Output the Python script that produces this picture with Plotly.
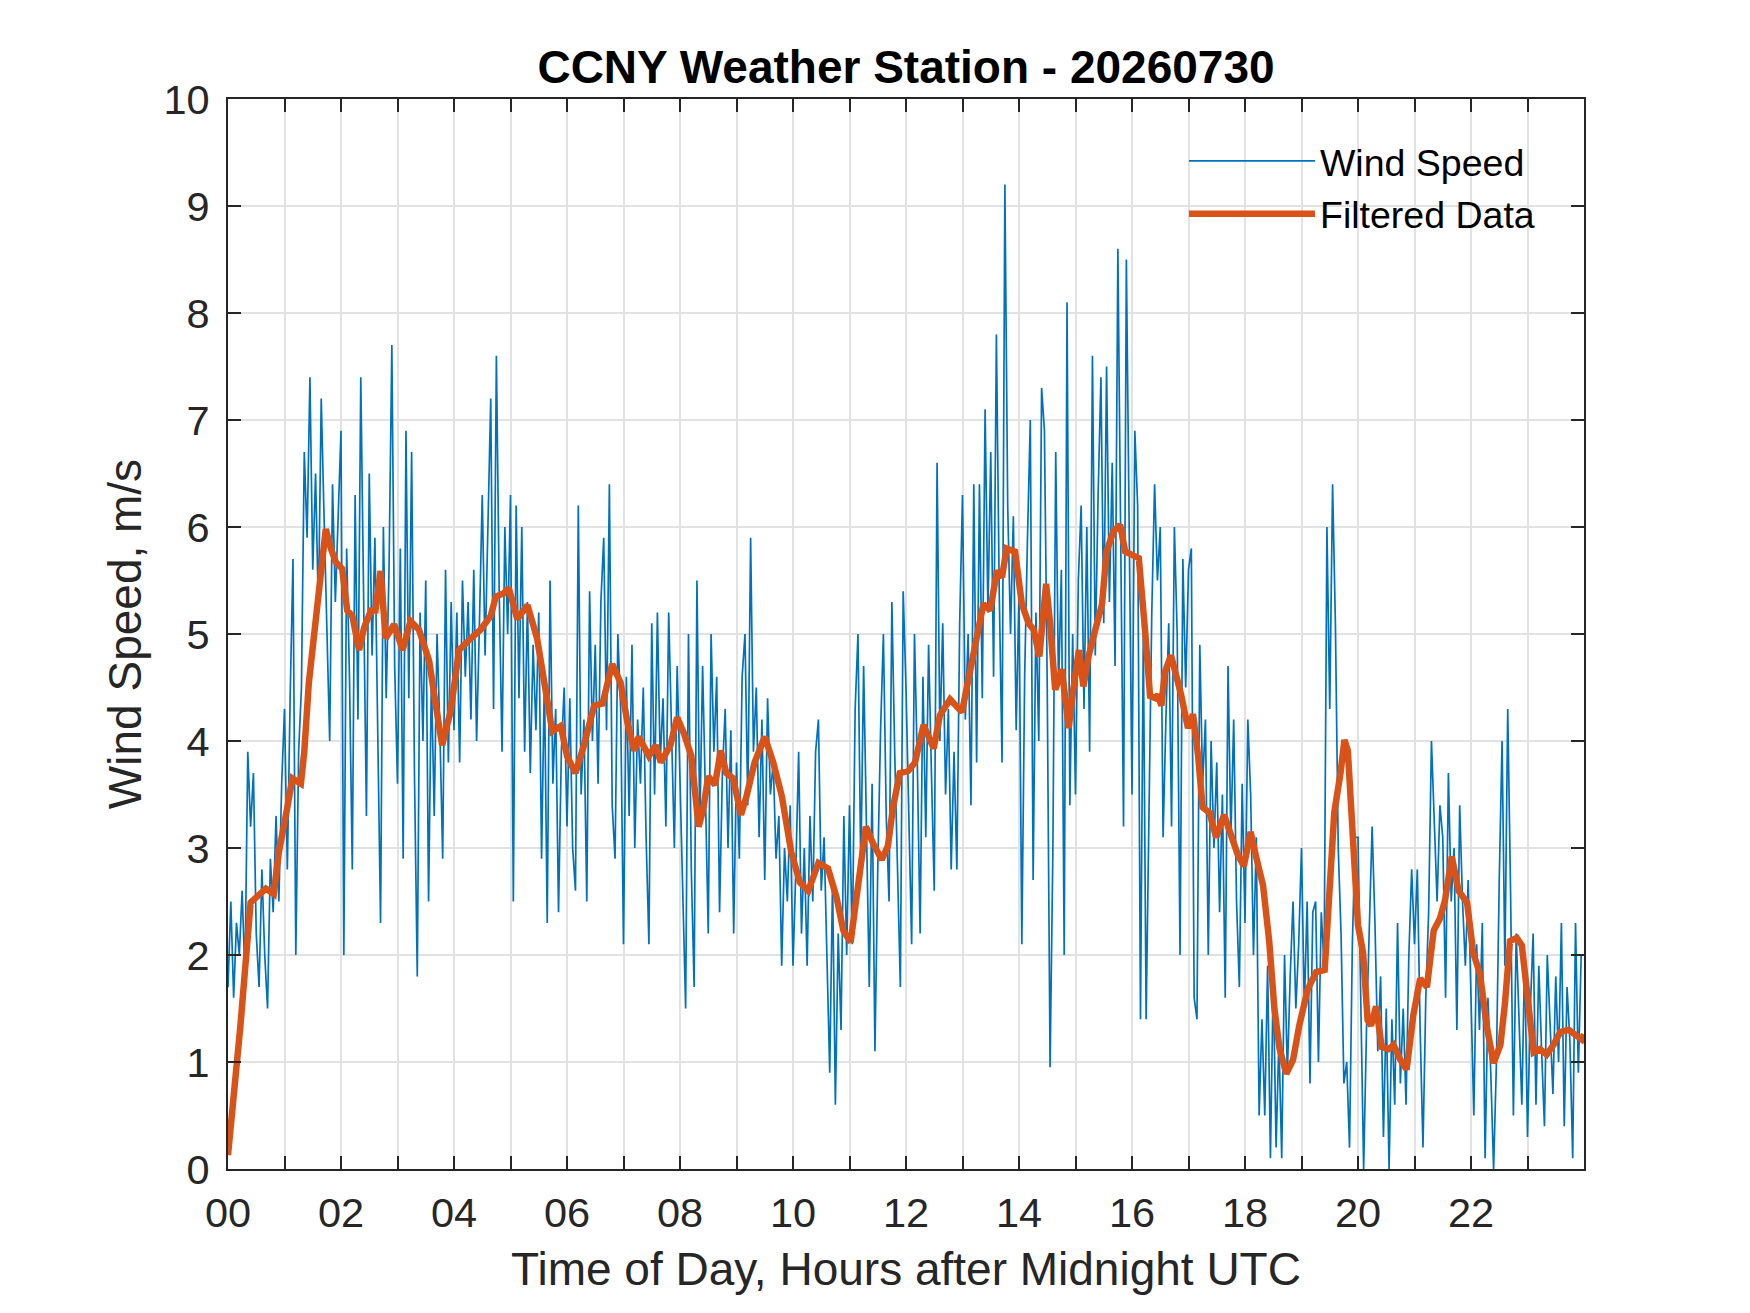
import numpy as np
import plotly.graph_objects as go

## DATA
# raw wind speed, one row per hour, 3 minute steps (m/s)
wind_speed = [
    1.7, 2.5, 1.6, 2.3, 2.0, 2.6, 1.8, 3.9, 3.2, 3.7, 2.2, 1.7, 2.8, 2.0, 1.5, 2.9, 2.4, 3.3, 2.5, 3.6,   # 00
    4.3, 2.8, 4.4, 5.7, 2.0, 3.9, 4.5, 6.7, 5.9, 7.4, 5.6, 6.5, 5.2, 7.2, 6.1, 4.9, 4.0, 6.4, 5.3, 6.1,   # 01
    6.9, 2.0, 5.8, 4.6, 2.8, 6.3, 4.2, 7.4, 5.1, 3.3, 6.5, 4.8, 5.9, 4.1, 2.3, 6.0, 4.4, 5.6, 7.7, 4.7,   # 02
    3.6, 5.8, 2.9, 6.9, 4.4, 6.7, 3.7, 1.8, 5.2, 4.0, 5.5, 2.5, 4.6, 3.3, 5.0, 4.1, 2.9, 5.6, 3.8, 5.3,   # 03
    4.1, 5.2, 3.8, 5.5, 4.6, 5.3, 4.2, 5.6, 4.0, 5.1, 6.3, 4.8, 5.9, 7.2, 4.3, 7.6, 5.4, 3.9, 6.0, 5.0,   # 04
    6.3, 2.5, 6.2, 4.4, 6.0, 3.9, 5.3, 3.7, 4.9, 4.1, 5.2, 2.9, 4.6, 2.3, 5.5, 3.6, 4.3, 2.4, 3.9, 4.5,   # 05
    3.2, 4.4, 3.0, 2.6, 6.2, 3.5, 4.2, 2.5, 5.4, 4.0, 4.9, 3.6, 5.3, 5.9, 4.1, 6.4, 3.4, 2.9, 5.0, 4.3,   # 06
    2.1, 4.6, 3.3, 4.9, 3.0, 4.2, 3.6, 4.5, 3.1, 2.1, 5.1, 3.5, 5.2, 3.8, 4.4, 3.2, 5.2, 4.0, 3.0, 4.7,   # 07
    3.6, 2.4, 1.5, 5.0, 2.8, 1.7, 5.5, 3.2, 4.7, 3.5, 2.2, 5.0, 3.9, 4.6, 2.4, 3.7, 4.3, 3.0, 4.1, 2.2,   # 08
    3.8, 2.9, 4.6, 5.0, 3.4, 5.9, 3.9, 4.5, 3.1, 4.2, 2.7, 4.4, 3.5, 3.8, 2.9, 3.3, 1.9, 3.0, 2.5, 3.4,   # 09
    1.9, 2.8, 3.9, 2.2, 3.0, 1.9, 3.3, 2.5, 3.9, 4.2, 2.6, 3.1, 2.0, 0.9, 2.7, 0.6, 2.2, 1.3, 3.3, 2.0,   # 10
    3.4, 2.1, 4.3, 5.0, 2.8, 4.7, 3.2, 1.7, 3.6, 1.1, 2.8, 4.1, 5.0, 3.3, 2.5, 5.3, 3.9, 2.9, 1.7, 5.4,   # 11
    4.5, 3.3, 2.1, 5.0, 3.8, 2.2, 4.6, 3.1, 4.9, 3.7, 2.6, 6.6, 4.0, 5.1, 3.5, 4.3, 2.8, 3.9, 2.8, 5.1,   # 12
    6.3, 4.2, 5.0, 3.4, 6.4, 3.8, 6.4, 4.4, 7.1, 5.2, 6.7, 4.6, 7.8, 5.4, 3.8, 9.2, 6.2, 5.0, 6.1, 4.1,   # 13
    5.4, 2.1, 4.6, 5.9, 7.0, 2.7, 5.2, 4.0, 7.3, 6.9, 4.5, 0.95, 3.0, 6.7, 4.5, 5.6, 2.0, 8.1, 3.4, 5.0,  # 14
    3.5, 5.5, 6.2, 4.3, 6.0, 3.9, 7.6, 4.8, 6.3, 7.4, 5.1, 7.5, 5.3, 6.6, 4.7, 8.6, 6.0, 3.2, 8.5, 5.8,   # 15
    3.5, 6.9, 6.2, 1.4, 5.0, 1.4, 3.4, 5.2, 6.4, 5.5, 6.0, 3.1, 4.2, 5.1, 3.2, 6.0, 5.0, 2.0, 5.7, 4.5,   # 16
    5.6, 5.8, 1.6, 1.4, 4.9, 3.6, 4.2, 2.0, 4.0, 3.0, 3.8, 2.4, 3.5, 1.6, 4.7, 3.1, 4.2, 2.5, 1.7, 3.6,   # 17
    2.3, 4.2, 3.5, 2.0, 3.1, 0.5, 1.4, 0.5, 1.9, 0.1, 1.8, 0.2, 1.2, 0.1, 2.0, 0.9, 1.8, 2.5, 1.5, 2.1,   # 18
    3.0, 1.5, 2.5, 0.8, 2.4, 2.5, 1.0, 2.4, 1.9, 6.0, 4.3, 6.4, 5.1, 3.0, 2.2, 0.8, 1.0, 0.2, 2.1, 3.1,   # 19
    3.1, 1.6, 0.0, 1.3, 2.2, 3.2, 2.3, 1.1, 1.8, 0.3, 1.5, 0.0, 1.4, 0.6, 2.3, 0.8, 1.5, 0.6, 2.0, 2.8,   # 20
    2.1, 2.8, 1.3, 0.2, 1.6, 2.4, 4.0, 3.2, 2.5, 3.4, 3.1, 1.6, 3.7, 2.5, 3.0, 1.3, 3.4, 2.5, 1.9, 2.7,   # 21
    1.6, 0.5, 2.1, 1.3, 2.3, 0.1, 1.6, 0.9, 0.0, 1.0, 2.7, 4.0, 1.9, 4.3, 2.6, 0.5, 2.2, 1.3, 0.6, 2.0,   # 22
    0.3, 1.5, 2.2, 0.6, 1.9, 1.1, 0.4, 2.0, 1.4, 0.7, 1.8, 1.0, 2.3, 0.4, 1.7, 1.2, 0.1, 2.3, 0.9, 2.0,   # 23
]
wind_hours = np.arange(len(wind_speed)) * 0.05   # 3 min samples

# filtered (smoothed) wind speed
filt_hours = [
    0.0, 0.22, 0.4, 0.52, 0.67, 0.81, 0.9, 1.05, 1.14, 1.29, 1.35, 1.43, 1.52, 1.61, 1.73, 1.82, 1.91,
    2.02, 2.11, 2.2, 2.32, 2.41, 2.53, 2.61, 2.7, 2.79, 2.94, 3.09, 3.23, 3.38, 3.56, 3.68, 3.79, 3.94,
    4.09, 4.3, 4.47, 4.65, 4.74, 4.88, 4.97, 5.12, 5.3, 5.47, 5.62, 5.74, 5.89, 6.0, 6.15, 6.3, 6.48,
    6.63, 6.8, 6.95, 7.07, 7.19, 7.27, 7.45, 7.57, 7.66, 7.83, 7.95, 8.07, 8.2, 8.33, 8.41, 8.5, 8.62,
    8.72, 8.82, 8.94, 9.08, 9.18, 9.32, 9.5, 9.65, 9.8, 9.97, 10.12, 10.27, 10.45, 10.62, 10.77, 10.89,
    11.02, 11.15, 11.29, 11.42, 11.57, 11.68, 11.77, 11.89, 12.04, 12.16, 12.31, 12.49, 12.6, 12.78,
    12.99, 13.14, 13.25, 13.37, 13.49, 13.61, 13.7, 13.78, 13.93, 14.05, 14.17, 14.26, 14.36, 14.48,
    14.55, 14.64, 14.76, 14.88, 14.96, 15.06, 15.14, 15.23, 15.35, 15.47, 15.55, 15.67, 15.79, 15.88,
    16.0, 16.12, 16.23, 16.32, 16.41, 16.46, 16.52, 16.58, 16.69, 16.78, 16.87, 16.99, 17.08, 17.17,
    17.25, 17.37, 17.49, 17.63, 17.76, 17.87, 17.98, 18.1, 18.2, 18.32, 18.43, 18.52, 18.61, 18.73,
    18.85, 18.96, 19.11, 19.26, 19.41, 19.5, 19.58, 19.69, 19.76, 19.82, 19.91, 20.0, 20.09, 20.17,
    20.23, 20.32, 20.42, 20.54, 20.63, 20.75, 20.86, 20.98, 21.1, 21.22, 21.34, 21.45, 21.54, 21.66,
    21.78, 21.93, 22.04, 22.16, 22.28, 22.4, 22.52, 22.6, 22.69, 22.81, 22.9, 22.99, 23.11, 23.22,
    23.34, 23.46, 23.58, 23.73, 23.84, 23.96, 24.0,
]
filt_speed = [
    0.13, 1.34, 2.49, 2.54, 2.62, 2.57, 2.96, 3.38, 3.65, 3.6, 3.9, 4.54, 4.96, 5.48, 5.98, 5.8, 5.67,
    5.61, 5.22, 5.17, 4.85, 5.06, 5.22, 5.22, 5.59, 4.96, 5.09, 4.85, 5.12, 5.04, 4.75, 4.33, 3.96, 4.28,
    4.85, 4.96, 5.04, 5.17, 5.35, 5.38, 5.43, 5.14, 5.27, 4.96, 4.43, 4.09, 4.14, 3.86, 3.7, 3.96, 4.33,
    4.35, 4.72, 4.54, 4.17, 3.91, 4.04, 3.86, 3.96, 3.8, 3.96, 4.22, 4.07, 3.86, 3.2, 3.36, 3.67, 3.59,
    3.91, 3.7, 3.65, 3.31, 3.49, 3.8, 4.04, 3.8, 3.49, 2.96, 2.68, 2.6, 2.86, 2.81, 2.54, 2.23,
    2.12, 2.6, 3.2, 3.04, 2.89, 3.02, 3.38, 3.7, 3.72, 3.8, 4.15, 3.93, 4.24, 4.39,
    4.27, 4.67, 4.98, 5.28, 5.22, 5.59, 5.53, 5.8, 5.77, 5.28, 5.1, 5.04, 4.79, 5.47,
    5.1, 4.48, 4.67, 4.12, 4.48, 4.85, 4.51, 4.79, 5.04, 5.28, 5.77, 5.96, 6.02, 5.77,
    5.74, 5.71, 5.04, 4.42, 4.4, 4.43, 4.33, 4.64, 4.8, 4.62, 4.43, 4.12, 4.25, 3.86,
    3.38, 3.33, 3.1, 3.31, 3.1, 2.94, 2.83, 3.15, 2.91, 2.65, 2.12, 1.5, 1.13, 0.89,
    1.02, 1.34, 1.68, 1.84, 1.86, 2.6, 3.33, 3.7, 4.01, 3.91, 3.07, 2.28, 2.02, 1.39,
    1.34, 1.52, 1.14, 1.12, 1.16, 1.02, 0.93, 1.44, 1.78, 1.7, 2.23, 2.34, 2.51, 2.92,
    2.6, 2.49, 2.02, 1.82, 1.33, 0.99, 1.16, 1.54, 2.13, 2.16, 2.09, 1.68, 1.09, 1.12,
    1.07, 1.16, 1.28, 1.3, 1.26, 1.21, 1.26,
]

hour_ticks = list(range(0, 24))
hour_labels = ['%02d' % h if h % 2 == 0 else '' for h in hour_ticks]
speed_ticks = list(range(0, 11))

FONT = 'Liberation Sans, Arial, sans-serif'
AXCOL = '#262626'

fig = go.Figure()
fig.add_trace(go.Scatter(x=wind_hours, y=wind_speed, mode='lines', name='Wind Speed',
                         line=dict(color='#0072BD', width=1.7), legendgroup='a'))
fig.add_trace(go.Scatter(x=filt_hours, y=filt_speed, mode='lines', name='Filtered Data',
                         line=dict(color='#D95319', width=6.5), legendgroup='b'))

axis_common = dict(showline=True, linecolor=AXCOL, linewidth=2, mirror='ticks',
                   ticks='inside', ticklen=13, tickwidth=2, tickcolor=AXCOL,
                   showgrid=True, gridcolor='#e2e2e2', gridwidth=2, zeroline=False,
                   tickfont=dict(family=FONT, size=41.5, color=AXCOL))

fig.update_xaxes(range=[0, 24], tickvals=hour_ticks, ticktext=hour_labels,
                 title=dict(text='Time of Day, Hours after Midnight UTC',
                            font=dict(family=FONT, size=46, color=AXCOL), standoff=18),
                 ticklabelstandoff=6, **axis_common)
fig.update_yaxes(range=[0, 10], tickvals=speed_ticks,
                 title=dict(text='Wind Speed, m/s',
                            font=dict(family=FONT, size=46, color=AXCOL), standoff=7),
                 ticklabelstandoff=8, **axis_common)

# page body has an 8px margin, so the figure is 8px smaller than the window
fig.update_layout(
    width=1742, height=1305,
    margin=dict(l=220, r=166, t=91, b=144),
    paper_bgcolor='white', plot_bgcolor='white',
    title=dict(text='<b>CCNY Weather Station - 20260730</b>', x=0.5, xref='paper',
               y=1 - 59 / 1305, yanchor='middle',
               font=dict(family=FONT, size=46, color='black')),
    legend=dict(x=0.705, y=0.971, xanchor='left', yanchor='top', bgcolor='rgba(0,0,0,0)',
                font=dict(family=FONT, size=37.5, color='black'), itemwidth=126,
                traceorder='grouped', tracegroupgap=1),
    showlegend=True,
)

fig.write_html('out.html')
